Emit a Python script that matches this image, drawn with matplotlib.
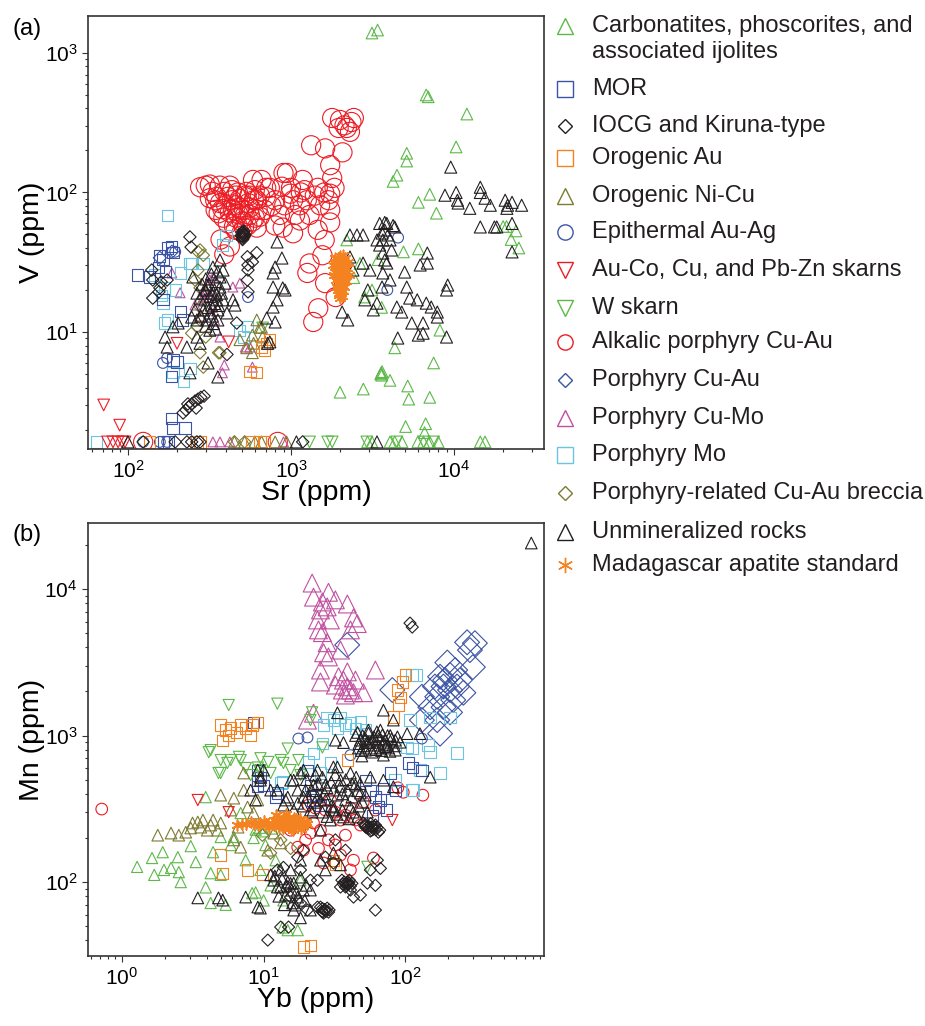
import numpy as np
import matplotlib
matplotlib.use('Agg')
import matplotlib.pyplot as plt
from matplotlib.lines import Line2D
from matplotlib.ticker import LogLocator, NullFormatter

plt.rcParams['font.family'] = ['Liberation Sans', 'DejaVu Sans']
plt.rcParams['mathtext.fontset'] = 'custom'
plt.rcParams['mathtext.rm'] = 'Liberation Sans'
plt.rcParams['mathtext.it'] = 'Liberation Sans:italic'
plt.rcParams['mathtext.bf'] = 'Liberation Sans:bold'

# ---------------- panel (a): Sr (ppm), V (ppm) ----------------
carb_a = np.array([
    (3140, 1390), (3400, 1460), (6750, 500), (6950, 485), (12000, 365), (10300, 212),
    (5130, 191), (5130, 168), (4470, 133), (4230, 120), (7100, 97), (6050, 85), (7800, 71),
    (20000, 57), (21000, 57), (24000, 53), (22400, 46), (25000, 40), (2200, 45.7),
    (6050, 39.4), (4900, 37.5), (2830, 17.8), (3140, 20), (3600, 15), (8200, 10.3),
    (4330, 7.7), (7500, 6.0), (3550, 5.0), (3620, 5.2), (3600, 4.9), (3580, 5.1), (4050, 4.5),
    (2000, 3.7), (2780, 3.9), (5200, 4.1), (5280, 3.3), (7100, 3.4), (5050, 2.1), (6700, 2.2),
    (6600, 1.9), (2950, 1.63), (3140, 1.63), (4050, 1.63), (4330, 1.63), (4800, 1.63),
    (6000, 1.63), (6500, 1.63), (7100, 1.63), (8000, 1.63), (14500, 1.63), (15500, 1.63),
    (2650, 31), (2430, 24.5), (3420, 33)])
mor_a = np.array([
    (114, 25.6), (136, 24.8), (154, 29), (164, 33), (186, 41), (189, 37), (164, 17), (209, 14),
    (215, 12.2), (189, 6.3), (200, 6.1), (186, 4.8), (186, 2.4), (189, 2.05), (224, 2.05),
    (175, 40), (157, 35), (170, 27), (165, 1.63), (178, 1.63)])
iocg_a = np.array([
    (240, 48), (244, 40.6), (140, 27.8), (142, 23.6), (142, 17.5), (157, 20.7), (174, 23.6),
    (500, 52), (510, 48), (520, 50), (505, 46), (515, 53), (495, 49), (512, 51),
    (508, 50), (502, 49), (518, 49), (510, 52), (506, 47),
    (540, 34.6), (545, 30.2), (545, 27.8), (540, 23.6), (545, 19.4), (580, 31.8), (617, 37),
    (465, 11.6), (405, 6.9), (218, 2.63), (227, 2.76), (236, 2.9), (246, 3.05), (258, 3.2),
    (269, 3.3), (280, 3.4), (293, 3.47), (233, 3.05), (262, 2.85), (124, 1.63), (230, 1.63),
    (246, 1.63), (265, 1.63), (277, 1.63), (1180, 1.63), (195, 1.63), (160, 22.8), (155, 19.4)])
oau_a = np.array([
    (710, 8.3), (690, 7.4), (742, 8.8), (560, 5.2), (612, 5.1), (660, 7.8), (136, 1.63),
    (265, 1.63), (277, 1.63), (577, 1.63), (645, 1.63), (690, 1.63)])
nicu_a = np.array([
    (486, 8.8), (590, 8.3), (580, 7.1), (645, 10.8), (580, 9.5), (535, 7.7), (670, 9.2),
    (617, 12.2), (660, 10.8), (450, 1.63), (520, 1.63), (600, 1.63), (660, 1.63), (800, 1.63),
    (940, 1.63)])
epi_a = np.array([
    (164, 6.0), (174, 6.5), (545, 17.8), (195, 37.6), (4540, 47.5), (3900, 20), (124, 1.63),
    (174, 1.63), (157, 1.63)])
skarn_a = np.array([
    (71, 3.0), (89, 2.15), (200, 8.3), (415, 8.5), (75, 1.63), (81, 1.63), (87, 1.63),
    (92, 1.63), (96, 1.63)])
wsk_a = np.array([
    (670, 10.7), (1300, 1.63), (1680, 1.63), (1790, 1.63), (2920, 1.63), (4460, 1.63),
    (6500, 1.63), (7500, 1.63)])
alk_a = np.array([
    (410, 93), (435, 88), (460, 81), (486, 90), (515, 75), (548, 84), (422, 72), (460, 66),
    (500, 62), (560, 69), (400, 81), (472, 100), (532, 101), (592, 88), (580, 62), (447, 57),
    (385, 66), (625, 75), (515, 56), (435, 104), (277, 109), (318, 91), (345, 75), (370, 46),
    (390, 36), (422, 41), (318, 114), (360, 71), (585, 123), (945, 138), (705, 108), (1030, 88),
    (1790, 342), (2200, 290), (2430, 342), (2300, 272), (2000, 331), (2130, 303), (2350, 320),
    (1960, 290), (1330, 218), (1620, 207), (2070, 194), (1740, 157), (1790, 127), (1740, 98),
    (1740, 75), (1460, 108), (1180, 123), (900, 138), (742, 108), (990, 98), (1250, 88),
    (1740, 61), (617, 88), (645, 67), (617, 56), (1030, 51), (1460, 54), (1610, 45.7),
    (1300, 31), (1260, 26.5), (1470, 14.8), (1370, 11.8), (1560, 35.5), (1620, 22.4),
    (1880, 17.8), (800, 88), (690, 75), (855, 69), (1135, 81), (910, 81), (1135, 63),
    (1300, 69), (1510, 81), (800, 58), (660, 123), (1060, 69), (1210, 104), (890, 56),
    (300, 112), (330, 101), (350, 93), (343, 88), (367, 112), (367, 84), (390, 101), (422, 112),
    (458, 95), (486, 78), (525, 95), (560, 78), (600, 66), (645, 95), (458, 54), (500, 52),
    (540, 58), (410, 60), (380, 76), (440, 75), (475, 70), (520, 68), (555, 95), (600, 104),
    (700, 93), (760, 80), (880, 110), (1000, 108), (1150, 100), (1400, 95), (1600, 100),
    (1850, 108), (1700, 88), (124, 1.63), (830, 1.63)])
pcuau_a = np.array([(186, 37.6), (157, 34)])
cumo_a = np.array([
    (186, 26.5), (209, 19.1), (332, 24.5), (390, 5.8), (380, 5.1), (580, 5.6), (560, 7.8),
    (290, 17.8), (440, 21), (318, 23.6), (486, 22.4), (305, 17.8), (367, 9.2), (525, 7.8),
    (258, 15.6), (340, 12.2), (300, 20), (330, 15), (350, 19), (280, 13), (332, 1.63),
    (367, 1.63), (422, 1.63), (900, 1.63)])
pmo_a = np.array([
    (175, 68), (400, 49), (380, 42), (240, 31), (209, 26.5), (168, 20.7), (164, 16.1),
    (174, 12.2), (168, 11.6), (540, 10.9), (510, 9.2), (161, 18.3), (246, 31), (290, 31),
    (240, 5.5), (218, 4.4), (189, 5.1), (486, 10.3), (146, 25.6), (195, 20), (64, 1.63)])
brec_a = np.array([
    (269, 37.6), (290, 35.5), (277, 20.7), (277, 12.2), (300, 9.2), (277, 7.1), (360, 7.1),
    (290, 5.6), (246, 9.8), (277, 38.7), (269, 27.8), (258, 23.6), (277, 15.1), (265, 10.9),
    (367, 7.1), (450, 1.63), (520, 1.63)])
unmin_a = np.array([
    (367, 32.8), (332, 29.2), (367, 24.8), (367, 21.0), (351, 17.0), (318, 13.7), (305, 12.2),
    (356, 12.2), (265, 12.2), (265, 9.2), (277, 8.3), (230, 7.8), (310, 6.0), (356, 4.76),
    (240, 5.1), (169, 9.2), (189, 10.9), (383, 27.8), (383, 17.0), (405, 13.7), (250, 24.8),
    (246, 12.8), (318, 10.3), (203, 11.6), (174, 7.8), (453, 15.6), (441, 17.0), (296, 17),
    (325, 15.6), (290, 14.4), (340, 20), (305, 21.7), (394, 22.4), (277, 17.5), (258, 14.4),
    (325, 19.0), (356, 14.4), (300, 20), (320, 18), (340, 16), (310, 15), (330, 13),
    (350, 18.5), (290, 19), (315, 22), (345, 23), (335, 11.5), (300, 11), (280, 13),
    (360, 15.5), (375, 19), (325, 26), (300, 24), (285, 22), (355, 27), (265, 19), (345, 10.5),
    (822, 44.2), (880, 33.9), (800, 29.2), (777, 26.5), (777, 21.0), (920, 20.0), (822, 17.0),
    (777, 15.1), (710, 12.6), (742, 8.5), (720, 8.3), (800, 11.8), (890, 20.7),
    (2060, 13.9), (2230, 12.2), (2300, 49.6), (2540, 49.6), (2770, 49.6), (3500, 60),
    (3870, 60), (4330, 56.6), (3620, 51.2), (3660, 45.7), (3370, 45.7), (4050, 45.7),
    (2300, 34.5), (2400, 27.8), (2770, 31.2), (3050, 27.8), (3660, 36.8), (3870, 31.2),
    (3660, 26.5), (4050, 23.6), (3620, 21.0), (2960, 20.0), (2840, 17.0), (3200, 14.4),
    (3370, 16.1), (4460, 15.1), (4980, 26.9), (5130, 21.0), (5350, 17.5), (5950, 17.0),
    (6760, 16.1), (7250, 15.1), (7900, 13.9), (7900, 12.8), (4780, 13.9), (5510, 11.6),
    (6460, 11.6), (6040, 9.5), (6460, 9.8), (9000, 9.2), (4520, 9.05), (9150, 21.7),
    (9000, 20.0), (6860, 36.8), (6200, 30.2), (6860, 31.2), (14500, 56.6), (18300, 56.6),
    (22700, 60), (22700, 37.5), (3760, 53.8), (3930, 49.6), (3500, 42), (4140, 38.7),
    (3760, 32.8),
    (9550, 152), (8800, 95.6), (10300, 100), (10500, 88), (10600, 84), (12500, 77),
    (14500, 109), (14500, 100), (15500, 91), (16700, 81), (20600, 88), (22700, 85),
    (21300, 81), (26000, 81), (21100, 77), (3760, 61), (4230, 58), (17700, 56.6),
    (3370, 1.63), (100, 1.63), (1080, 1.63)])
mad_a = np.array([
    (1860, 33.9), (2000, 35), (2140, 33.9), (2230, 31.8), (1810, 30.2), (1940, 31.8),
    (2080, 30.7), (2200, 28.7), (1860, 26.9), (2000, 27.8), (2140, 26.5), (1880, 23.6),
    (2030, 24.3), (2170, 23.2), (1910, 21.0), (2060, 21.7), (1960, 19.0), (2080, 19.7),
    (2000, 17.5), (1830, 25.6), (2260, 25.6), (2030, 31.8), (1910, 28.7), (2110, 21.0),
    (1940, 22.4), (2060, 18.1), (1950, 34), (2100, 35.5), (1980, 29.5), (2050, 29),
    (1920, 25), (2090, 25), (1990, 22.5), (2010, 20), (1970, 26.5), (2120, 30),
    (1900, 32), (2050, 33), (2180, 31), (1960, 30), (2100, 28), (1890, 27.5), (2020, 26),
    (2150, 25), (1950, 24.5), (2080, 23), (2000, 21), (1930, 20), (2040, 19), (1980, 18.5),
    (2030, 29), (1880, 30)])

# ---------------- panel (b): Yb (ppm), Mn (ppm) ----------------
carb_b = np.array([
    (1.28, 127), (1.63, 146), (1.94, 160), (2.48, 148), (1.69, 112), (1.98, 121), (2.52, 117),
    (2.6, 100), (3.9, 380), (4.4, 160), (4.23, 115), (3.9, 92), (4.23, 72), (4.98, 112),
    (4.98, 203), (6.16, 203), (8.78, 85), (10, 75), (13.6, 49), (14.8, 47), (6.89, 296),
    (8.3, 84), (13.8, 75), (17.4, 47), (8.5, 200), (2.22, 125), (3.06, 176), (3.32, 137),
    (5.86, 179), (7.47, 141), (9.5, 121), (5.4, 70), (11.2, 95), (18.2, 103), (12.15, 141),
    (10.3, 179), (8.8, 228), (10, 222), (11.5, 232), (9.4, 235)])
mor_b = np.array([
    (8.5, 1220), (9.1, 581), (9.5, 520), (9.1, 496), (10, 459), (9.1, 447), (12.15, 381),
    (12.5, 405), (20.4, 581), (21.4, 459), (23.2, 392), (25.2, 335), (22, 363), (56.7, 424),
    (61.5, 381), (64.6, 325), (70.1, 436), (66.7, 363), (74, 310), (58.5, 286), (78.4, 555),
    (105, 650), (113, 605), (131, 581), (52.3, 496), (85, 424)])
iocg_b = np.array([
    (108, 5850), (112, 5500),
    (50.6, 253), (54.9, 241), (59.6, 230), (64.6, 219), (56.7, 223), (53.1, 235), (61.5, 245),
    (58, 238), (52, 246), (62, 228), (57, 250), (66, 226), (55, 232), (60, 240), (58, 226),
    (52, 240), (63, 236),
    (35.7, 103), (38.4, 98.4), (41, 94), (37.8, 92.6), (40.3, 103), (39, 100), (36.5, 97),
    (42, 98), (38.5, 95), (37, 100), (39.5, 96), (40, 99),
    (25.2, 67.5), (26.9, 64.4), (28.7, 62.4), (26.5, 61.4), (28.1, 66.4), (27, 65),
    (25.8, 63), (29, 64.5), (26, 66), (27.5, 63), (26.2, 62.5),
    (61.5, 64.4), (54, 98.4), (56.7, 121), (63.5, 141), (41, 88.2), (34.9, 92.5), (24, 103),
    (31.1, 135), (27.3, 148), (19.1, 165), (17.4, 148), (13.8, 126), (12.5, 121), (14.8, 92.5),
    (15.5, 79), (18.2, 72), (20.4, 64.4), (24, 67.5), (15, 49.3), (10.7, 40.2), (43.1, 79),
    (61.5, 95), (66.7, 124), (48.2, 81.5), (32.1, 194), (37.8, 165), (18.2, 121), (21.4, 103),
    (13.2, 49.3)])
oau_b = np.array([
    (4.98, 1180), (5.4, 1090), (5.86, 1125), (5.67, 1000), (6.4, 1045), (6.89, 1180),
    (7.47, 1125), (8.1, 1000), (8.3, 1180), (5.14, 930), (9.1, 1220), (4.98, 153), (5.14, 115),
    (7.7, 121), (9.8, 112), (19.1, 36), (21.4, 37), (31.1, 141), (39, 680), (82.4, 1340),
    (88, 2045), (95, 2320), (92, 1810), (100, 2590), (89, 1615), (32, 131)])
nicu_b = np.array([
    (1.79, 209), (2.52, 209), (3.06, 234), (3.43, 257), (3.73, 265), (4.4, 265), (4.98, 253),
    (4.73, 226), (4.0, 226), (2.82, 219), (2.22, 216), (3.6, 237), (4.23, 245), (4.98, 392),
    (6.16, 374), (7.23, 555), (7.23, 424), (5.86, 310), (7.7, 325), (9.1, 363), (8.5, 296),
    (6.6, 237), (6.16, 194), (6.89, 173), (10.7, 165), (11.8, 216), (13.2, 185), (3.15, 253)])
epi_b = np.array([(17.6, 954), (20.4, 970), (41, 735), (131, 954)])
skarn_b = np.array([(3.43, 363), (5.67, 300), (81, 265)])
wsk_b = np.array([
    (5.67, 1615), (12.5, 1650), (22, 1440), (21.4, 1275), (4.23, 795), (4.98, 680), (5.86, 680),
    (6.89, 680), (4.98, 555), (9.1, 605), (9.5, 700), (13.8, 650), (14.8, 815), (4.1, 770),
    (5.55, 650), (6.7, 715), (10.8, 660), (13.2, 680), (17.6, 680), (15.5, 581), (4.8, 555),
    (9.5, 581), (26, 830), (11.2, 555), (54, 127), (8.1, 537), (7.47, 600), (18.2, 537)])
alk_b = np.array([
    (0.72, 315), (50.6, 352), (133, 392), (96.8, 410), (88.6, 440), (21.4, 216), (43.1, 141),
    (59.6, 146), (26.5, 135), (19.1, 165), (17.4, 173), (22.5, 253), (25.2, 226), (28.7, 194),
    (32.1, 179), (37.8, 209), (24.4, 170), (34.9, 153), (20.7, 335), (23.2, 320), (27.3, 310),
    (32.1, 300), (37.8, 286), (41, 320), (29.6, 363), (34.9, 265), (44.5, 265), (19.8, 194),
    (15.5, 226), (41, 121), (48.2, 245), (61.5, 310)])
pcuau_b = np.array([
    (273, 4330), (310, 4270), (286, 3830), (300, 2930), (198, 3150), (207, 2590), (176, 2520),
    (162, 2160), (186, 2160), (207, 2045), (232, 2160), (168, 1840), (218, 1750), (257, 1960),
    (131, 1840), (150, 1560), (186, 1560), (131, 1275), (168, 1275), (207, 1440), (81, 2045),
    (38.9, 4150), (176, 1030), (191, 2390), (243, 2390), (225, 2800)])
cumo_b = np.array([
    (22, 10980), (22.5, 8800), (28.7, 9500), (26, 8160), (25.2, 7200), (28.1, 7550), (39, 7900),
    (43.1, 6350), (45.8, 5810), (41, 5260), (24, 6150), (24.4, 5260), (26, 5040), (28.1, 4300),
    (26.5, 3670), (28.7, 3440), (34.9, 3830), (25.2, 2800), (33.8, 2520), (36.6, 2390),
    (39, 2150), (41, 2045), (36, 2045), (43.1, 1960), (25.2, 2320), (50.6, 1960), (61.5, 2800),
    (22.5, 1420), (20.4, 1275), (39, 2720), (32.1, 2210), (37.8, 1890), (44.5, 2390),
    (29.6, 6150), (32.1, 8430)])
pmo_b = np.array([
    (112, 2590), (119, 2590), (28.1, 1330), (31.1, 1275), (34.9, 1330), (41, 1215), (150, 1330),
    (207, 1330), (108, 1275), (26, 880), (22.5, 755), (29.6, 650), (112, 815), (145, 860),
    (150, 770), (232, 760), (176, 555), (112, 424), (13.6, 482), (25.2, 555), (20.7, 660),
    (26.5, 1180), (33.2, 1120), (37.8, 1180), (44.5, 1120), (48.2, 1240), (52.3, 1090),
    (103, 830), (113, 424), (13.2, 475), (85, 496), (127, 581)])
brec_b = np.array([(11.2, 158), (13.2, 194), (15.5, 170), (9.8, 209)])
unmin_b = np.array([
    (775, 20600), (33.2, 1430), (70.1, 1490), (82.4, 1275), (36.6, 895), (32.1, 930),
    (85, 795), (103, 1030), (127, 1030), (150, 520),
    (44.5, 1000), (48.2, 930), (52.3, 954), (56.7, 895), (61.5, 860), (66.7, 822), (72.4, 930),
    (78.4, 1000), (52.3, 795), (58.5, 770), (64.6, 1000), (46.7, 822), (54.9, 1090),
    (70.1, 735), (85, 930), (49.4, 725), (76, 822), (66.7, 1090), (53.5, 895),
    (46, 1050), (50, 1000), (55, 1040), (60, 980), (65, 950), (70, 900), (75, 870), (80, 950),
    (88, 980), (92, 900), (47, 880), (51, 850), (57, 820), (62, 800), (68, 790), (73, 840),
    (78, 780), (84, 850), (59, 930), (63, 1060), (69, 1010), (75, 1000), (55, 900), (49, 790),
    (9.1, 581), (9.5, 496), (16.3, 496), (18.2, 555), (24, 581), (33.2, 610), (41, 555),
    (41, 325), (31.1, 325), (24, 380), (19.1, 380), (17.4, 424), (21.4, 310), (46, 278),
    (36.6, 278), (29.6, 265), (25.2, 226), (19.1, 581), (15.5, 496), (12.5, 424), (9.5, 520),
    (31.1, 610), (31.1, 424), (31.1, 310), (39, 424), (25.2, 363), (20.4, 380), (17.4, 345),
    (16.3, 310), (48.2, 405), (56.7, 520), (70.1, 496), (82.4, 447), (34.9, 496), (27.3, 459),
    (22.5, 459), (37.8, 363), (44.5, 459), (52.3, 392), (27.3, 363), (33.2, 392), (23.2, 537),
    (19.8, 424), (14.3, 363), (14.8, 380), (10, 581), (11.2, 424), (13.8, 335), (8.1, 424),
    (8.78, 363),
    (20, 500), (22, 420), (24, 470), (26, 520), (28, 440), (30, 480), (32, 540), (35, 450),
    (38, 500), (42, 470), (45, 520), (48, 470), (26, 300), (28, 280), (30, 330), (33, 290),
    (36, 310), (40, 270), (43, 300), (47, 330), (50, 350), (54, 300), (22, 300), (19, 330),
    (23, 350), (27, 400), (36, 400), (42, 380), (46, 420),
    (11.8, 103), (13.2, 92.5), (16.3, 98.4), (17.4, 79), (18.2, 108), (9.1, 67.5), (16.3, 64.4),
    (18.2, 57), (21.4, 64.4), (31.1, 158), (25.2, 141), (13.2, 121), (14.8, 100), (12.5, 92.5),
    (3.43, 78), (4.8, 78), (5.14, 75.3), (7.47, 79), (9.5, 66.4), (15.5, 98), (14.3, 81.5),
    (19.1, 88.2), (15.5, 121), (18.2, 141), (21.4, 88.2), (11.2, 112), (16.8, 69.6),
    (34.9, 131), (27.3, 121), (12, 110), (13.5, 105), (14.5, 95), (15.8, 88), (17, 85),
    (16, 72), (14, 70), (19.5, 75), (20, 95), (12.8, 80)])
mad_b = np.array([
    (6.5, 245), (7.47, 250), (8.1, 256), (9.1, 245), (10, 260), (10.8, 250), (11.8, 265),
    (11.8, 245), (12.8, 275), (12.8, 255), (12.8, 238), (13.8, 268), (13.8, 250), (13.8, 233),
    (15, 280), (15, 260), (15, 242), (16.3, 272), (16.3, 252), (16.3, 236), (17.7, 265),
    (17.7, 246), (19.1, 258), (19.1, 240), (20.4, 250), (14.5, 290), (16, 228), (18.5, 230),
    (11, 238), (12.2, 285), (14.2, 258), (15.6, 250), (17, 258), (13.2, 262), (18.2, 270),
    (10.4, 248), (13, 250), (14, 242), (15, 255), (16, 245), (17, 252), (18, 255), (12.5, 260),
    (14.5, 268), (16.8, 268), (19, 248), (13.5, 240), (15.5, 235), (11.5, 255), (20, 258),
    (9.5, 252), (8.5, 248), (7, 248)])

# key, legend label, marker, colour
groups = [
    ('carb', 'Carbonatites, phoscorites, and\nassociated ijolites', '^', '#5cb848'),
    ('mor', 'MOR', 's', '#3a53a4'),
    ('iocg', 'IOCG and Kiruna-type', 'D', '#231f20'),
    ('oau', 'Orogenic Au', 's', '#f58220'),
    ('nicu', 'Orogenic Ni-Cu', '^', '#7d7a31'),
    ('epi', 'Epithermal Au-Ag', 'o', '#3d55a5'),
    ('skarn', 'Au-Co, Cu, and Pb-Zn skarns', 'v', '#ed1c24'),
    ('wsk', 'W skarn', 'v', '#5cb848'),
    ('alk', 'Alkalic porphyry Cu-Au', 'o', '#ed1c24'),
    ('pcuau', 'Porphyry Cu-Au', 'D', '#3a53a4'),
    ('cumo', 'Porphyry Cu-Mo', '^', '#c150a0'),
    ('pmo', 'Porphyry Mo', 's', '#6cc5e0'),
    ('brec', 'Porphyry-related Cu-Au breccia', 'D', '#7d7a31'),
    ('unmin', 'Unmineralized rocks', '^', '#231f20'),
    ('mad', 'Madagascar apatite standard', (6, 2, 0), '#f58220'),
]
style = {k: (m, c) for k, _, m, c in groups}

data_a = dict(carb=carb_a, mor=mor_a, iocg=iocg_a, oau=oau_a, nicu=nicu_a, epi=epi_a,
              skarn=skarn_a, wsk=wsk_a, alk=alk_a, pcuau=pcuau_a, cumo=cumo_a, pmo=pmo_a,
              brec=brec_a, unmin=unmin_a, mad=mad_a)
data_b = dict(carb=carb_b, mor=mor_b, iocg=iocg_b, oau=oau_b, nicu=nicu_b, epi=epi_b,
              skarn=skarn_b, wsk=wsk_b, alk=alk_b, pcuau=pcuau_b, cumo=cumo_b, pmo=pmo_b,
              brec=brec_b, unmin=unmin_b, mad=mad_b)
size_a = dict(carb=70, mor=65, iocg=40, oau=65, nicu=70, epi=60, skarn=70, wsk=70, alk=190,
              pcuau=45, cumo=50, pmo=65, brec=40, unmin=75, mad=55)
size_b = dict(carb=65, mor=65, iocg=38, oau=65, nicu=70, epi=60, skarn=65, wsk=65, alk=70,
              pcuau=160, cumo=165, pmo=70, brec=40, unmin=70, mad=60)
order = ['alk', 'pcuau', 'cumo', 'pmo', 'mor', 'carb', 'wsk', 'nicu', 'brec', 'epi', 'skarn',
         'oau', 'iocg', 'unmin', 'mad']

W, H = 925, 1026
fig = plt.figure(figsize=(W / 100, H / 100), dpi=100)
ax_a = fig.add_axes([88 / W, 1 - 449 / H, 456 / W, 433 / H])
ax_b = fig.add_axes([88 / W, 1 - 956 / H, 456 / W, 433 / H])


def draw(ax, data, sizes):
    for k in order:
        m, c = style[k]
        d = data[k]
        if k == 'mad':
            ax.scatter(d[:, 0], d[:, 1], s=sizes[k], marker=m, color=c, linewidths=1.2, zorder=3)
        else:
            ax.scatter(d[:, 0], d[:, 1], s=sizes[k], marker=m, facecolors='none',
                       edgecolors=c, linewidths=0.8, zorder=2)


def dress(ax, xlim, ylim, xlabel, ylabel):
    ax.set_xscale('log')
    ax.set_yscale('log')
    ax.set_xlim(*xlim)
    ax.set_ylim(*ylim)
    for a in (ax.xaxis, ax.yaxis):
        a.set_major_locator(LogLocator(base=10))
        a.set_minor_locator(LogLocator(base=10, subs=np.arange(2, 10)))
        a.set_minor_formatter(NullFormatter())
    ax.tick_params(which='both', direction='out', top=False, right=False,
                   width=0.8, color='#333333', labelsize=15, pad=3)
    ax.tick_params(which='major', length=4.5)
    ax.tick_params(which='minor', length=2.5)
    for sp in ax.spines.values():
        sp.set_color('#333333')
        sp.set_linewidth(1.2)
    ax.set_xlabel(xlabel, fontsize=20.5)
    ax.set_ylabel(ylabel, fontsize=20.5)
    ax.xaxis.set_label_coords(0.5, -0.072)
    ax.yaxis.set_label_coords(-0.094, 0.5)


draw(ax_a, data_a, size_a)
dress(ax_a, (56.9, 35650), (1.45, 1841), 'Sr (ppm)', 'V (ppm)')
draw(ax_b, data_b, size_b)
dress(ax_b, (0.576, 953), (31.3, 28220), 'Yb (ppm)', 'Mn (ppm)')

fig.text(12 / W, 1 - 29 / H, '(a)', fontsize=17, va='center')
fig.text(12 / W, 1 - 535 / H, '(b)', fontsize=17, va='center')

# legend on the right, one row per group
leg_rows = [39, 89, 126, 158, 196, 232, 270, 308, 342, 380, 418, 455, 493, 532, 565]
for (k, label, m, c), yp in zip(groups, leg_rows):
    ym = 26 if k == 'carb' else yp
    ms = 7.6 if m == 'D' else 11
    fig.add_artist(Line2D([565 / W], [1 - ym / H], transform=fig.transFigure, marker=m,
                          ms=ms, mfc='none', mec=c, color=c, mew=1.0, ls='none'))
    fig.text(592 / W, 1 - yp / H, label, fontsize=17, va='center', color='#231f20',
             linespacing=1.22)

fig.savefig('out.png', dpi=100)
